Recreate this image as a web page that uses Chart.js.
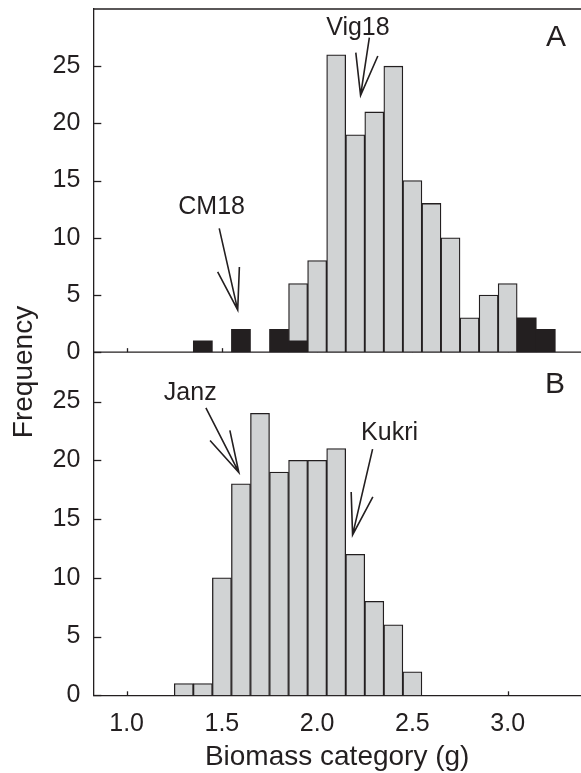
<!DOCTYPE html>
<html>
<head>
<meta charset="utf-8">
<script src="https://cdn.jsdelivr.net/npm/chart.js@4.4.0/dist/chart.umd.min.js"></script>
<style>
  html, body { margin: 0; padding: 0; background: #fff; }
  #wrap { position: relative; width: 581px; height: 773px; }
</style>
</head>
<body>
<div id="wrap"><canvas id="myChart" width="581" height="773"></canvas></div>
<script>
// panel A, black bars (parents)
const blackA_x = [1.4, 1.6, 1.8, 1.9, 3.1, 3.2];
const blackA_y = [1, 2, 2, 1, 3, 2];
// panel A, grey bars
const greyA_x = [1.9, 2.0, 2.1, 2.2, 2.3, 2.4, 2.5, 2.6, 2.7, 2.8, 2.9, 3.0];
const greyA_y = [6, 8, 26, 19, 21, 25, 15, 13, 10, 3, 5, 6];
// panel B, grey bars
const greyB_x = [1.3, 1.4, 1.5, 1.6, 1.7, 1.8, 1.9, 2.0, 2.1, 2.2, 2.3, 2.4, 2.5];
const greyB_y = [1, 1, 10, 18, 24, 19, 20, 20, 21, 12, 8, 6, 2];

const xTicks = [1.0, 1.5, 2.0, 2.5, 3.0];
const yTicks = [0, 5, 10, 15, 20, 25];

const INK = "#231f20";
const FONT = "'Liberation Sans', Arial, Helvetica, sans-serif";

function pts(xs, ys) {
  return xs.map((x, i) => ({x: x, y: ys[i]}));
}

// labels + arrows, in data units
const notes = [
  {text: "Vig18", axis: "yA", x: 2.214, y: 27.7, from: [2.274, 27.5], to: [2.228, 22.45]},
  {text: "CM18", axis: "yA", x: 1.446, y: 12.07, from: [1.486, 10.82], to: [1.583, 3.69]},
  {text: "Janz", axis: "yB", x: 1.334, y: 25.15, from: [1.416, 24.45], to: [1.589, 18.96]},
  {text: "Kukri", axis: "yB", x: 2.38, y: 21.69, from: [2.291, 20.95], to: [2.186, 13.65]},
];

const panelFrame = {
  id: "panelFrame",
  beforeDatasetsDraw(chart) {
    const c = chart.ctx;
    const x = chart.scales.x;
    c.save();
    c.strokeStyle = INK;
    c.lineWidth = 1.3;
    ["yA", "yB"].forEach(id => {
      const s = chart.scales[id];
      yTicks.forEach(v => {
        const py = Math.round(s.getPixelForValue(v)) + 0.5;
        c.beginPath();
        c.moveTo(x.left, py);
        c.lineTo(x.left + 8, py);
        c.stroke();
      });
      xTicks.forEach(v => {
        const px = Math.round(x.getPixelForValue(v)) + 0.5;
        c.beginPath();
        c.moveTo(px, s.bottom);
        c.lineTo(px, s.bottom - 4);
        c.stroke();
      });
    });
    c.restore();
  },
  afterDraw(chart) {
    const c = chart.ctx;
    const x = chart.scales.x;
    const yA = chart.scales.yA;
    c.save();
    c.strokeStyle = INK;
    c.lineWidth = 1.3;
    // top frame line and panel A baseline
    [yA.top, yA.bottom].forEach(py => {
      c.beginPath();
      c.moveTo(x.left, py);
      c.lineTo(x.right, py);
      c.stroke();
    });

    c.fillStyle = INK;
    c.font = "30px " + FONT;
    c.textAlign = "center";
    c.textBaseline = "alphabetic";
    c.fillText("A", 556, 46);
    c.fillText("B", 555, 393);

    // y title spanning both panels
    c.save();
    c.translate(31.5, 372);
    c.rotate(-Math.PI / 2);
    c.font = "28px " + FONT;
    c.fillText("Frequency", 0, 0);
    c.restore();

    c.font = "25px " + FONT;
    c.lineWidth = 1.6;
    notes.forEach(n => {
      const s = chart.scales[n.axis];
      c.fillText(n.text, x.getPixelForValue(n.x), s.getPixelForValue(n.y));
      const x0 = x.getPixelForValue(n.from[0]), y0 = s.getPixelForValue(n.from[1]);
      const x1 = x.getPixelForValue(n.to[0]), y1 = s.getPixelForValue(n.to[1]);
      const ang = Math.atan2(y1 - y0, x1 - x0);
      const head = 43, spread = 15 * Math.PI / 180;
      c.beginPath();
      c.moveTo(x0, y0);
      c.lineTo(x1, y1);
      c.moveTo(x1 - head * Math.cos(ang - spread), y1 - head * Math.sin(ang - spread));
      c.lineTo(x1, y1);
      c.lineTo(x1 - head * Math.cos(ang + spread), y1 - head * Math.sin(ang + spread));
      c.stroke();
    });
    c.restore();
  }
};

function yScale(max) {
  return {
    type: "linear",
    position: "left",
    stack: "panels",
    stackWeight: 1,
    min: 0,
    max: max,
    afterBuildTicks: s => { s.ticks = yTicks.map(v => ({value: v})); },
    afterFit: s => {
      s.width = 93.3;
      s.paddingTop = 0;
      s.paddingBottom = 0;
    },
    grid: {display: false, drawTicks: false},
    border: {display: true, color: INK, width: 1.3},
    ticks: {color: INK, padding: 13, font: {family: FONT, size: 25}},
  };
}

const barStyle = {
  grouped: false,
  barPercentage: 1,
  categoryPercentage: 1,
  xAxisID: "x",
};

const data = {
  datasets: [
    Object.assign({
      label: "parents",
      data: pts(blackA_x, blackA_y),
      yAxisID: "yA",
      backgroundColor: INK,
      borderColor: INK,
      borderWidth: 0,
      order: 0,
    }, barStyle),
    Object.assign({
      label: "A",
      data: pts(greyA_x, greyA_y),
      yAxisID: "yA",
      backgroundColor: "#d1d3d4",
      borderColor: INK,
      borderWidth: 1.3,
      order: 1,
    }, barStyle),
    Object.assign({
      label: "B",
      data: pts(greyB_x, greyB_y),
      yAxisID: "yB",
      backgroundColor: "#d1d3d4",
      borderColor: INK,
      borderWidth: 1.3,
      order: 1,
    }, barStyle),
  ],
};

const config = {
  type: "bar",
  data: data,
  options: {
    responsive: false,
    animation: false,
    devicePixelRatio: 1,
    layout: {padding: {top: 9, right: 0, bottom: 0, left: 0}},
    plugins: {legend: {display: false}, tooltip: {enabled: false}},
    scales: {
      x: {
        type: "linear",
        position: "bottom",
        offset: false,
        min: 0.825,
        max: 3.385,
        afterBuildTicks: s => { s.ticks = xTicks.map(v => ({value: v})); },
        afterFit: s => {
          s.height = 77.7;
          s.paddingLeft = 0;
          s.paddingRight = 0;
        },
        grid: {display: false, drawTicks: false, offset: false},
        border: {display: true, color: INK, width: 1.3},
        ticks: {
          color: INK,
          padding: 14,
          font: {family: FONT, size: 25},
          callback: v => v.toFixed(1),
        },
        title: {
          display: true,
          text: "Biomass category (g)",
          color: INK,
          font: {family: FONT, size: 28},
          padding: {top: 0, bottom: -1},
        },
      },
      // stacked bottom-up: B first, A above it
      yB: yScale(29.2),
      yA: yScale(30),
    },
  },
  plugins: [panelFrame],
};

const ctx = document.getElementById("myChart");
const myChart = new Chart(ctx, config);
</script>
</body>
</html>
